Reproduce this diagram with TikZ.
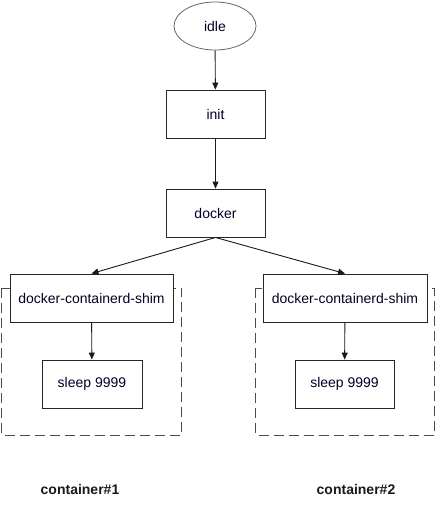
\documentclass[tikz,border=0pt]{standalone}
\usepackage{fontspec}
\setmainfont{Liberation Sans}
\usetikzlibrary{arrows.meta,shapes.geometric}
\begin{document}
\begin{tikzpicture}[x=1pt,y=-1pt,
  box/.style={draw=black!85, line width=0.9pt, rectangle, minimum height=48pt, inner sep=0pt, font=\fontsize{14}{16}\selectfont, text=black!85!blue},
  oval/.style={draw=black!60, line width=0.8pt, ellipse, minimum width=82pt, minimum height=48pt, inner sep=0pt, font=\fontsize{14}{16}\selectfont, text=black!85!blue},
  conn/.style={draw=black!90, line width=0.9pt, -{Triangle[length=7pt,width=6pt]}},
  cont/.style={draw=black!70, line width=0.9pt, dash pattern=on 10pt off 5pt},
  lab/.style={font=\bfseries\fontsize{14}{16}\selectfont, text=black!90}]
\useasboundingbox (0,0) rectangle (435,528);
\node[oval] (idle) at (215,26) {idle};
\node[box, minimum width=99pt] (init) at (215.5,114) {init};
\node[box, minimum width=99pt] (docker) at (215.5,213) {docker};
\draw[cont] (1.5,288) rectangle (181.5,435);
\draw[cont] (255.5,288) rectangle (434,435);
\node[box, minimum width=163pt, fill=white] (shimA) at (91.5,298) {docker-containerd-shim};
\node[box, minimum width=100pt] (sleepA) at (92,384) {sleep 9999};
\node[box, minimum width=164pt, fill=white] (shimB) at (345,298) {docker-containerd-shim};
\node[box, minimum width=99pt] (sleepB) at (344.5,384) {sleep 9999};
\draw[conn] (idle) -- (init);
\draw[conn] (init) -- (docker);
\draw[conn] (docker.south) -- (shimA.north);
\draw[conn] (docker.south) -- (shimB.north);
\draw[conn] (shimA) -- (sleepA);
\draw[conn] (shimB) -- (sleepB);
\node[lab] (c1) at (80,489) {container\#1};
\node[lab] (c2) at (356,489) {container\#2};
\end{tikzpicture}
\end{document}
